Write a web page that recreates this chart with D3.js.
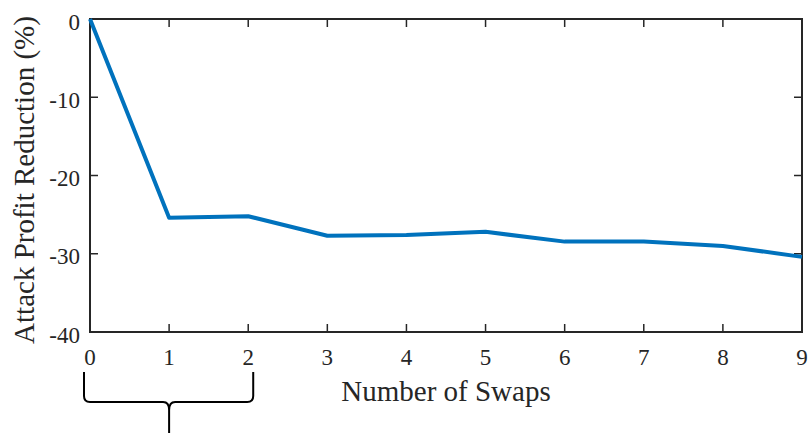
<!DOCTYPE html>
<html>
<head>
<meta charset="utf-8">
<script src="https://cdn.jsdelivr.net/npm/d3@7"></script>
<style>
  html, body { margin: 0; padding: 0; background: #fff; }
  svg { display: block; }
  text { font-family: "Liberation Serif", "DejaVu Serif", serif; fill: #262626; }
</style>
</head>
<body>
<svg id="chart" width="810" height="436"></svg>
<script>
// Number of swaps and the resulting attack profit reduction (%)
const swaps = [0, 1, 2, 3, 4, 5, 6, 7, 8, 9];
const reduction = [0, -25.4, -25.2, -27.7, -27.6, -27.2, -28.45, -28.45, -29.0, -30.4];
const xTicks = [0, 1, 2, 3, 4, 5, 6, 7, 8, 9];
const yTicks = [0, -10, -20, -30, -40];
const xLabel = "Number of Swaps";
const yLabel = "Attack Profit Reduction (%)";
const braceRange = [0, 2];

const svg = d3.select("#chart");
const plotL = 90, plotR = 802, plotT = 19, plotB = 332;

const x = d3.scaleLinear().domain([0, 9]).range([plotL, plotR]);
const y = d3.scaleLinear().domain([-40, 0]).range([plotB, plotT]);

const axisColor = "#262626";
const tickLen = 8;

// Inward ticks on all four sides (box style)
const g = svg.append("g");
xTicks.forEach(t => {
  g.append("line").attr("x1", x(t)).attr("x2", x(t)).attr("y1", plotB).attr("y2", plotB - tickLen)
    .attr("stroke", axisColor).attr("stroke-width", 1.5);
  g.append("line").attr("x1", x(t)).attr("x2", x(t)).attr("y1", plotT).attr("y2", plotT + tickLen)
    .attr("stroke", axisColor).attr("stroke-width", 1.5);
  g.append("text").attr("x", x(t)).attr("y", 365).attr("text-anchor", "middle")
    .attr("font-size", 23).text(t);
});
yTicks.forEach(t => {
  g.append("line").attr("x1", plotL).attr("x2", plotL + tickLen).attr("y1", y(t)).attr("y2", y(t))
    .attr("stroke", axisColor).attr("stroke-width", 1.5);
  g.append("line").attr("x1", plotR).attr("x2", plotR - tickLen).attr("y1", y(t)).attr("y2", y(t))
    .attr("stroke", axisColor).attr("stroke-width", 1.5);
  g.append("text").attr("x", 80).attr("y", y(t) + 10.5).attr("text-anchor", "end")
    .attr("font-size", 23).text(t);
});

// Axes box
g.append("rect").attr("x", plotL).attr("y", plotT).attr("width", plotR - plotL).attr("height", plotB - plotT)
  .attr("fill", "none").attr("stroke", axisColor).attr("stroke-width", 2);

// Data line
const line = d3.line().x((d, i) => x(swaps[i])).y(d => y(d));
svg.append("path").datum(reduction).attr("d", line)
  .attr("fill", "none").attr("stroke", "#0072BD").attr("stroke-width", 4)
  .attr("stroke-linejoin", "round");

// Axis titles
svg.append("text").attr("x", (plotL + plotR) / 2).attr("y", 401).attr("text-anchor", "middle")
  .attr("font-size", 29).text(xLabel);
svg.append("text").attr("transform", "translate(34, 180) rotate(-90)")
  .attr("text-anchor", "middle").attr("font-size", 29).text(yLabel);

// Curly brace grouping the first swaps
const bx0 = x(braceRange[0]) - 6, bx1 = x(braceRange[1]) + 5;
const bm = (x(braceRange[0]) + x(braceRange[1])) / 2;
const yTopB = 372, yMid = 402, yTip = 433, r = 6;
const brace = `M${bx0},${yTopB} L${bx0},${yMid - r} Q${bx0},${yMid} ${bx0 + r},${yMid}
  L${bm - r},${yMid} Q${bm},${yMid} ${bm},${yMid + r + 2} L${bm},${yTip}
  M${bm},${yMid + r + 2} Q${bm},${yMid} ${bm + r},${yMid}
  L${bx1 - r},${yMid} Q${bx1},${yMid} ${bx1},${yMid - r} L${bx1},${yTopB}`;
svg.append("path").attr("d", brace).attr("fill", "none").attr("stroke", "#000").attr("stroke-width", 2);
</script>
</body>
</html>
